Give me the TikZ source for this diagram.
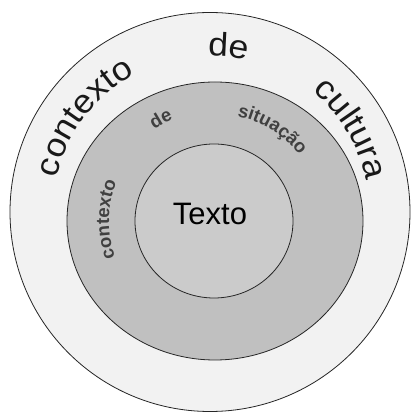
\documentclass[tikz,border=0pt]{standalone}
\usepackage{fontspec}
\setmainfont{Liberation Sans}
\newfontfamily\widesans[FakeStretch=1.08]{Liberation Sans}
\usetikzlibrary{decorations.text,calc}
\definecolor{outerfill}{HTML}{F2F2F2}
\definecolor{midfill}{HTML}{C0C0C0}
\definecolor{innerfill}{HTML}{CBCBCB}
\tikzset{
  ringline/.style={draw=black!85, line width=0.8pt},
  bigarc/.style={decorate, decoration={text along path, text align=center, text color=black!90, text={|\widesans\fontsize{33}{33}\selectfont|#1}}},
  midarc/.style={decorate, decoration={text along path, text align=center, text color=black!75, text={|\fontsize{18.5}{18.5}\selectfont\bfseries|#1}}}
}
\begin{document}
\begin{tikzpicture}[x=1pt,y=1pt]
\useasboundingbox (0,0) rectangle (412,412);
\fill[white] (0,0) rectangle (412,412);
\coordinate (oc) at (210,200);
\coordinate (mc) at (215,191);
\coordinate (ic) at (214,191);
\draw[ringline, fill=outerfill] (oc) ellipse [x radius=200, y radius=199.5];
\draw[ringline, fill=midfill] (mc) ellipse [x radius=148, y radius=139];
\draw[ringline, fill=innerfill] (ic) ellipse [x radius=79, y radius=77];
% outer words
\path[bigarc={contexto}] ($(oc)+(186:157)$) arc[start angle=186, end angle=100, radius=157];
\path[bigarc={de}] ($(oc)+(115:156)$) arc[start angle=115, end angle=52, radius=156];
\path[bigarc={cultura}] ($(oc)+(69:159)$) arc[start angle=69, end angle=-8, radius=159];
% middle words
\path[midarc={contexto}] ($(mc)+(217:106)$) arc[start angle=217, end angle=141, radius=106];
\path[midarc={de}] ($(mc)+(140:110)$) arc[start angle=140, end angle=96, radius=110];
\path[midarc={situação}] ($(mc)+(97:107)$) arc[start angle=97, end angle=19, radius=107];
% centre
\node[font=\fontsize{31}{31}\selectfont, text=black] (texto) at (210,198) {Texto};
\end{tikzpicture}
\end{document}
